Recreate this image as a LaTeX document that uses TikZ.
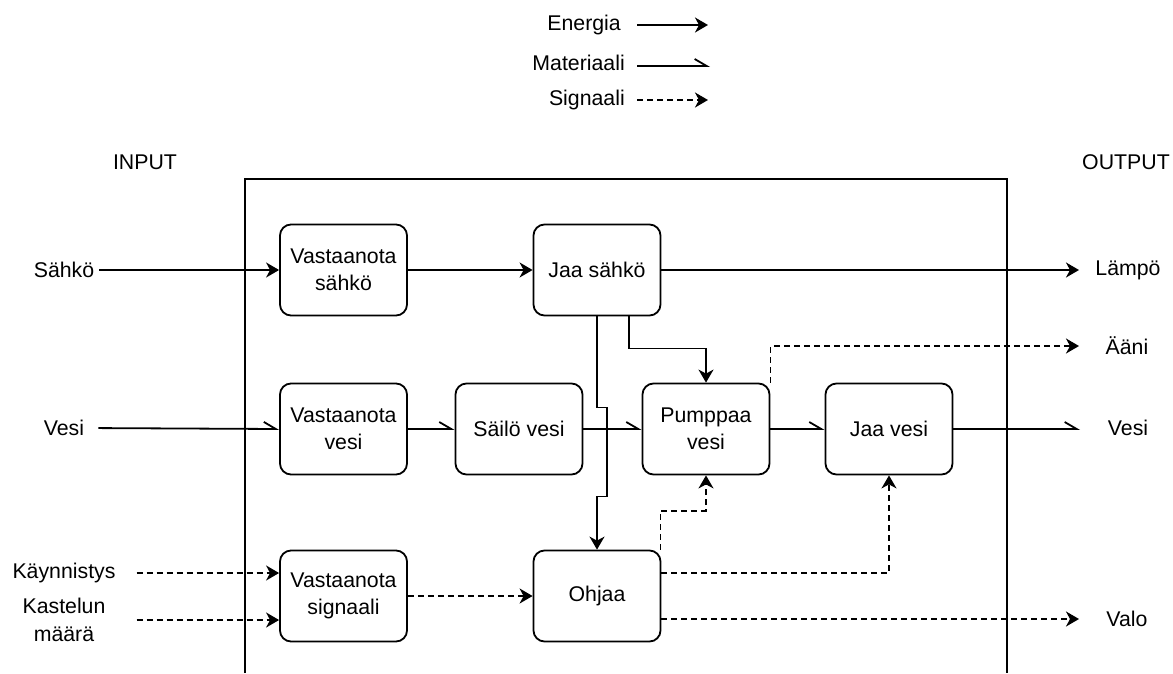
\documentclass[tikz,border=0pt]{standalone}
\usepackage{fontspec}
\setmainfont{Liberation Sans}
\usetikzlibrary{arrows.meta}
\begin{document}
\begin{tikzpicture}[x=1pt,y=-1pt,
  every node/.style={font=\fontsize{21.3}{27.5}\selectfont},
  box/.style={draw, line width=1.8pt, rounded corners=11pt, minimum width=127pt, minimum height=91pt, inner sep=0pt, align=center},
  lbl/.style={inner sep=0pt, align=center},
  con/.style={line width=1.8pt},
  energy/.style={con, -{Stealth[length=13pt,width=15pt,inset=4pt]}},
  signal/.style={energy, dash pattern=on 6pt off 4pt},
  material/.style={con, -{Straight Barb[harpoon,length=12pt,width=14pt]}}
]
\useasboundingbox (0,0) rectangle (1173,673);

% system boundary
\draw[line width=1.6pt] (245,673) -- (245,179) -- (1007,179) -- (1007,673);

% function boxes
\node[box] (vs) at (343.5,270) {Vastaanota\\sähkö};
\node[box] (js) at (597,270) {Jaa sähkö};
\node[box] (vv) at (343.5,429) {Vastaanota\\vesi};
\node[box] (sv) at (519,429) {Säilö vesi};
\node[box] (pv) at (706,429) {Pumppaa\\vesi};
\node[box] (jv) at (889,429) {Jaa vesi};
\node[box] (vsig) at (343.5,596) {Vastaanota\\signaali};
\node[box] (oh) at (597,596) {Ohjaa};

% labels
\node[lbl] (inp) at (145,162) {INPUT};
\node[lbl] (outp) at (1126,162) {OUTPUT};
\node[lbl] (sahko) at (64,270) {Sähkö};
\node[lbl] (vesiin) at (64,428) {Vesi};
\node[lbl] (kay) at (64,573) {Käynnistys};
\node[lbl] (kas) at (64,620) {Kastelun\\määrä};
\node[lbl] (lampo) at (1128,270) {Lämpö};
\node[lbl] (aani) at (1127,346) {Ääni};
\node[lbl] (vesiout) at (1128,428) {Vesi};
\node[lbl] (valo) at (1127,619) {Valo};
\coordinate (outx) at (1079,0);

% legend
\node[lbl, anchor=east] (leg1) at (621,25) {Energia};
\node[lbl, anchor=east] (leg2) at (625,63) {Materiaali};
\node[lbl, anchor=east] (leg3) at (625,100) {Signaali};
\draw[energy] ([xshift=16pt]leg1.east) -- ++(71,0);
\draw[material] ([xshift=12pt,yshift=-3pt]leg2.east) -- ++(73,0);
\draw[signal] ([xshift=12pt]leg3.east) -- ++(71,0);

% energy
\draw[energy, shorten <=5pt] (sahko.east) -- (vs.west);
\draw[energy] (vs) -- (js);
\draw[energy] (js.east) -- (js.east -| outx);
\draw[energy] (js.south) -- ++(0,91) -- ++(10,0) -- ++(0,89) -- ++(-10,0) -- (oh.north);
\draw[energy] ([xshift=32pt]js.south) -- ++(0,32) -| (pv.north);

% material
\draw[material, shorten <=14pt] (vesiin.east) -- (vv.west);
\draw[material] (vv) -- (sv);
\draw[material] (sv) -- (pv);
\draw[material] (pv) -- (jv);
\draw[material] (jv.east) -- ([xshift=1pt]jv.east -| outx);

% signals
\draw[signal, shorten <=21pt] (kay.east) -- (kay.east -| vsig.west);
\draw[signal, shorten <=31pt] (kas.east) -- (kas.east -| vsig.west);
\draw[signal] (vsig) -- (oh);
\draw[signal] ([yshift=23pt]oh.east) -| (jv.south);
\draw[signal] ([yshift=-23pt]oh.east) -- ([yshift=-23pt]oh.east -| outx);
\draw[signal] ([xshift=-1pt]oh.north east) -- ++(0,-39) -| (pv.south);
\draw[signal] (pv.north east) |- (aani.west -| outx);
\end{tikzpicture}
\end{document}
